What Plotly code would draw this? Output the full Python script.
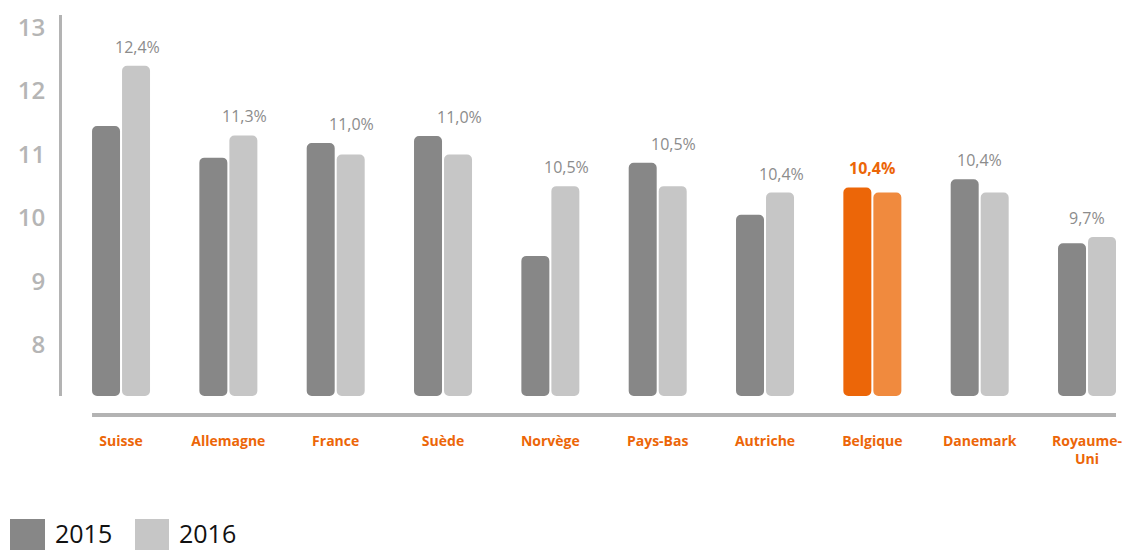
import plotly.graph_objects as go

# Pays comparés
categories = ["Suisse", "Allemagne", "France", "Suède", "Norvège",
              "Pays-Bas", "Autriche", "Belgique", "Danemark", "Royaume-<br>Uni"]

# Valeurs par année
values_2015 = [11.45, 10.95, 11.18, 11.29, 9.40, 10.87, 10.05, 10.48, 10.61, 9.60]
values_2016 = [12.4, 11.3, 11.0, 11.0, 10.5, 10.5, 10.4, 10.4, 10.4, 9.7]

y_ticks = [8, 9, 10, 11, 12, 13]
highlight = "Belgique"

AXIS_FLOOR = 7.19
GREY_DARK = "#878787"
GREY_LIGHT = "#c6c6c6"
ORANGE_DARK = "#ec6608"
ORANGE_LIGHT = "#f08a3e"

# Étiquettes centrées sur le groupe plutôt que sur la barre 2016
GROUP_CENTERED = {"Belgique", "Danemark", "Royaume-<br>Uni"}


def fmt_pct(v):
    return f"{v:.1f}".replace(".", ",") + "%"


colors_2015 = [ORANGE_DARK if c == highlight else GREY_DARK for c in categories]
colors_2016 = [ORANGE_LIGHT if c == highlight else GREY_LIGHT for c in categories]

fig = go.Figure()
fig.add_trace(go.Bar(
    x=categories, y=[v - AXIS_FLOOR for v in values_2015], base=AXIS_FLOOR,
    name="2015", marker=dict(color=colors_2015, cornerradius=5, line_width=0),
    showlegend=False, hoverinfo="skip",
))
fig.add_trace(go.Bar(
    x=categories, y=[v - AXIS_FLOOR for v in values_2016], base=AXIS_FLOOR,
    name="2016", marker=dict(color=colors_2016, cornerradius=5, line_width=0),
    showlegend=False, hoverinfo="skip",
))

# Valeurs 2016 au-dessus de la plus haute barre du groupe
for cat, v15, v16 in zip(categories, values_2015, values_2016):
    is_hl = cat == highlight
    fig.add_annotation(
        x=cat, y=max(v15, v16), xref="x", yref="y",
        xshift=0 if cat in GROUP_CENTERED else 16, yshift=6,
        xanchor="center", yanchor="bottom", showarrow=False,
        text=f"<b>{fmt_pct(v16)}</b>" if is_hl else fmt_pct(v16),
        font=dict(family="Open Sans", size=16,
                  color=ORANGE_DARK if is_hl else "#8c8c8c"),
    )

# Axe horizontal sous les barres
fig.add_shape(type="line", xref="paper", yref="paper",
              x0=0.0285, x1=1.0, y0=-0.05, y1=-0.05,
              line=dict(color="#b3b3b3", width=4))

# Légende personnalisée (carrés + libellés)
px_w, px_h = 1054.0, 381.0


def px_x(p):
    return (p - 62) / px_w


def px_y(p):
    return (396 - p) / px_h


for label, color, x0, x1 in [("2015", GREY_DARK, 10, 45), ("2016", GREY_LIGHT, 135, 169)]:
    fig.add_shape(type="rect", xref="paper", yref="paper",
                  x0=px_x(x0), x1=px_x(x1), y0=px_y(556), y1=px_y(519),
                  fillcolor=color, line_width=0, layer="above")
    fig.add_annotation(xref="paper", yref="paper", x=px_x(x1 + 8), y=px_y(533),
                       xanchor="left", yanchor="middle", text=label, showarrow=False,
                       font=dict(family="Open Sans", size=25, color="#111111"))

fig.update_layout(
    width=1128, height=550,
    margin=dict(l=62, r=12, t=15, b=154, autoexpand=False),
    paper_bgcolor="white", plot_bgcolor="white",
    barmode="group", bargap=0.441, bargroupgap=0.067,
    xaxis=dict(range=[-0.55, 9.27], showgrid=False, showline=False, zeroline=False,
               automargin=False,
               ticks="outside", ticklen=32, tickcolor="rgba(0,0,0,0)",
               tickfont=dict(family="Open Sans", size=14, color=ORANGE_DARK, weight="bold")),
    yaxis=dict(range=[AXIS_FLOOR, 13.2], tickvals=y_ticks, showgrid=False, zeroline=False,
               showline=True, linecolor="#b3b3b3", linewidth=3, automargin=False,
               ticks="outside", ticklen=9, tickcolor="rgba(0,0,0,0)",
               tickfont=dict(family="Open Sans", size=24, color="#b5b5b5", weight=600)),
)

fig.write_html("out.html")
